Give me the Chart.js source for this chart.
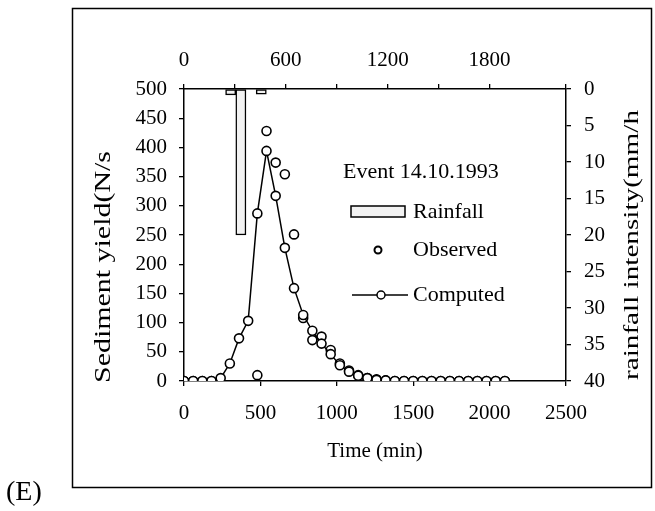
<!DOCTYPE html>
<html>
<head>
<meta charset="utf-8">
<script src="https://cdn.jsdelivr.net/npm/chart.js@4.4.0/dist/chart.umd.min.js"></script>
<style>
  html, body { margin: 0; padding: 0; background: #fff; }
</style>
</head>
<body>
<canvas id="chart" width="655" height="511"></canvas>
<script>
// computed sediment yield (N/s), every 60 min
const compTime = [0, 60, 120, 180, 240, 300, 360, 420, 480, 540, 600, 660, 720, 780, 840, 900, 960, 1020,
  1080, 1140, 1200, 1260, 1320, 1380, 1440, 1500, 1560, 1620, 1680, 1740, 1800, 1860, 1920, 1980, 2040, 2100];
const compYield = [0, 0, 0, 0, 5, 30, 73, 103, 287, 394, 317, 228, 159, 113, 86, 64, 46, 27,
  16, 9, 5, 2, 1, 0, 0, 0, 0, 0, 0, 0, 0, 0, 0, 0, 0, 0];

// observed sediment yield (N/s)
const obsTime = [0, 60, 120, 180, 480, 540, 600, 660, 720, 780, 840, 900, 960, 1020, 1080, 1140, 1200,
  1260, 1320, 1380, 1440, 1500, 1560, 1620, 1680, 1740, 1800, 1860, 1920, 1980, 2040, 2100];
const obsYield = [0, 0, 0, 0, 10, 428, 374, 354, 251, 108, 70, 76, 53, 30, 18, 10, 5,
  3, 1, 0, 0, 0, 0, 0, 0, 0, 0, 0, 0, 0, 0, 0];

// rainfall intensity (mm/h), hourly blocks on the top time axis
const rainTime = [275, 335, 455];
const rainValue = [0.8, 20, 0.7];
const rainStep = 60;

const leftTicks = [0, 50, 100, 150, 200, 250, 300, 350, 400, 450, 500];
const topLabels = [0, 600, 1200, 1800];

function pts(xs, ys) {
  return xs.map((x, i) => ({ x: x, y: ys[i] }));
}

Chart.defaults.font.family = '"Liberation Serif", "Times New Roman", serif';
Chart.defaults.color = '#000';

const FONT = { size: 21 };

function axisStyle() {
  return {
    display: true,
    offset: false,
    drawOnChartArea: false,
    drawTicks: true,
    tickLength: 5,
    color: '#000',
    lineWidth: 1.3
  };
}

function vText(ctx, text, cx, cy, len, size) {
  ctx.save();
  ctx.font = size + 'px "Liberation Serif"';
  let w = ctx.measureText(text).width;
  ctx.translate(cx, cy);
  ctx.rotate(-Math.PI / 2);
  ctx.scale(len / w, 1);
  ctx.textAlign = 'center';
  ctx.textBaseline = 'middle';
  ctx.fillStyle = '#000';
  ctx.fillText(text, 0, 0);
  ctx.restore();
}

const extras = {
  id: 'extras',
  afterDraw(chart) {
    const ctx = chart.ctx;
    ctx.save();
    // outer frame
    ctx.strokeStyle = '#000';
    ctx.lineWidth = 1.5;
    ctx.strokeRect(72.5, 8.5, 579, 479);

    ctx.fillStyle = '#000';
    ctx.font = '28px "Liberation Serif"';
    ctx.textBaseline = 'middle';
    ctx.textAlign = 'left';
    ctx.fillText('(E)', 6, 493);

    vText(ctx, 'Sediment yield(N/s', 104, 267, 232, 24);
    vText(ctx, 'rainfall intensity(mm/h', 632, 245, 270, 21);

    // legend
    ctx.font = '22px "Liberation Serif"';
    ctx.fillText('Event 14.10.1993', 343, 172);
    ctx.fillText('Rainfall', 413, 212);
    ctx.fillText('Observed', 413, 250);
    ctx.fillText('Computed', 413, 295);

    ctx.fillStyle = '#f2f2f2';
    ctx.fillRect(351, 206, 54, 11);
    ctx.lineWidth = 1.5;
    ctx.strokeRect(351, 206, 54, 11);

    ctx.beginPath();
    ctx.arc(378, 250, 3.5, 0, Math.PI * 2);
    ctx.fillStyle = '#fff';
    ctx.fill();
    ctx.lineWidth = 2;
    ctx.stroke();

    ctx.beginPath();
    ctx.moveTo(352, 295);
    ctx.lineTo(408, 295);
    ctx.lineWidth = 1.5;
    ctx.stroke();
    ctx.beginPath();
    ctx.arc(381, 295, 4, 0, Math.PI * 2);
    ctx.fillStyle = '#fff';
    ctx.fill();
    ctx.stroke();
    ctx.restore();
  }
};

const ctx = document.getElementById('chart').getContext('2d');

new Chart(ctx, {
  type: 'scatter',
  data: {
    datasets: [
      {
        type: 'bar',
        label: 'Rainfall',
        data: pts(rainTime, rainValue),
        xAxisID: 'xT',
        yAxisID: 'yR',
        backgroundColor: '#f2f2f2',
        borderColor: '#000',
        borderWidth: 1.5,
        borderSkipped: false,
        grouped: false,
        barThickness: (c) => {
          const s = c.chart.scales.xT;
          return Math.abs(s.getPixelForValue(rainStep) - s.getPixelForValue(0));
        },
        order: 3
      },
      {
        type: 'scatter',
        label: 'Observed',
        data: pts(obsTime, obsYield),
        xAxisID: 'x',
        yAxisID: 'y',
        showLine: false,
        pointRadius: 4.5,
        pointBorderWidth: 1.6,
        pointBackgroundColor: '#fff',
        pointBorderColor: '#000',
        order: 2
      },
      {
        type: 'line',
        label: 'Computed',
        data: pts(compTime, compYield),
        xAxisID: 'x',
        yAxisID: 'y',
        borderColor: '#000',
        borderWidth: 1.5,
        tension: 0,
        pointRadius: 4.5,
        pointBorderWidth: 1.6,
        pointBackgroundColor: '#fff',
        pointBorderColor: '#000',
        order: 1
      }
    ]
  },
  options: {
    responsive: false,
    animation: false,
    layout: { padding: 0 },
    plugins: {
      legend: { display: false },
      tooltip: { enabled: false }
    },
    scales: {
      x: {
        type: 'linear',
        position: 'bottom',
        min: 0,
        max: 2500,
        offset: false,
        ticks: { stepSize: 500, font: FONT, padding: 15, maxRotation: 0, callback: (v) => String(v) },
        grid: axisStyle(),
        border: { display: true, color: '#000', width: 1.5 },
        title: {
          display: true,
          text: 'Time (min)',
          font: { size: 21 },
          padding: { top: 0, bottom: 47 }
        },
        afterFit: (s) => { s.height = 130; }
      },
      xT: {
        type: 'linear',
        position: 'top',
        min: 0,
        max: 2250,
        offset: false,
        ticks: {
          stepSize: 300,
          font: FONT,
          padding: 11,
          maxRotation: 0,
          autoSkip: false,
          callback: (v) => topLabels.includes(v) ? String(v) : ''
        },
        grid: axisStyle(),
        border: { display: true, color: '#000', width: 1.5 },
        afterFit: (s) => { s.height = 89; }
      },
      y: {
        type: 'linear',
        position: 'left',
        min: 0,
        max: 500,
        afterBuildTicks: (s) => { s.ticks = leftTicks.map(v => ({ value: v })); },
        ticks: { font: FONT, padding: 12 },
        grid: axisStyle(),
        border: { display: true, color: '#000', width: 1.5 },
        afterFit: (s) => { s.width = 184; }
      },
      yR: {
        type: 'linear',
        position: 'right',
        reverse: true,
        min: 0,
        max: 40,
        ticks: { stepSize: 5, font: FONT, padding: 13 },
        grid: axisStyle(),
        border: { display: true, color: '#000', width: 1.5 },
        afterFit: (s) => { s.width = 89; }
      }
    }
  },
  plugins: [extras]
});
</script>
</body>
</html>
